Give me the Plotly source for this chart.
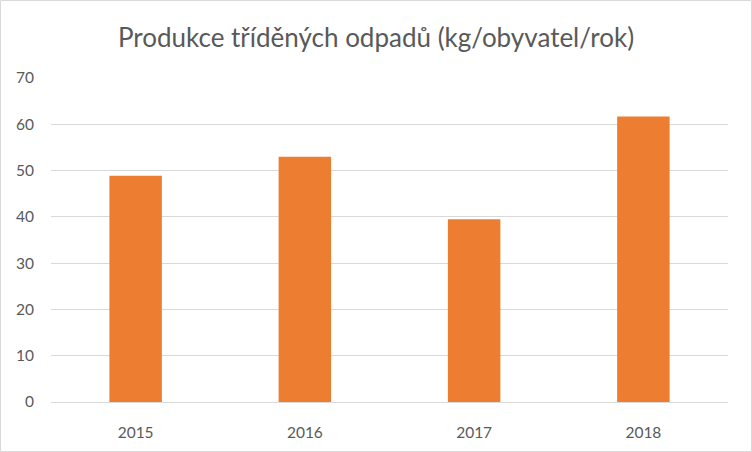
import plotly.graph_objects as go

years = ["2015", "2016", "2017", "2018"]
values = [48.9, 53.0, 39.5, 61.7]
y_ticks = [0, 10, 20, 30, 40, 50, 60, 70]

W, H = 752, 452
ml, mr, mt, mb = 51, 24, 78, 50
pw, ph = W - ml - mr, H - mt - mb

fig = go.Figure(go.Bar(x=years, y=values, marker=dict(color="#ED7D31", line=dict(width=0))))

fig.update_layout(
    width=W, height=H,
    margin=dict(l=ml, r=mr, t=mt, b=mb),
    paper_bgcolor="white", plot_bgcolor="white",
    bargap=0.69,
    showlegend=False,
    title=dict(text="Produkce tříděných odpadů (kg/obyvatel/rok)",
               x=0.5, xanchor="center", y=1 - 38 / H, yanchor="middle",
               font=dict(family="Lato", size=26, color="#595959")),
    font=dict(family="Lato", size=15.5, color="#595959"),
)
fig.update_yaxes(range=[0, 70], tickvals=y_ticks, showgrid=True, gridcolor="#d9d9d9",
                 gridwidth=1, zeroline=False, showline=False, ticks="",
                 ticklabelstandoff=16, fixedrange=True)
fig.update_xaxes(showline=True, linecolor="#d9d9d9", linewidth=1, ticks="",
                 ticklabelstandoff=16, showgrid=False)

fig.add_shape(type="rect", xref="paper", yref="paper",
              x0=(-ml + 0.5) / pw, x1=1 + (mr - 0.5) / pw,
              y0=(-mb + 0.5) / ph, y1=1 + (mt - 0.5) / ph,
              line=dict(color="#d9d9d9", width=1), layer="below")

fig.write_html("out.html")
